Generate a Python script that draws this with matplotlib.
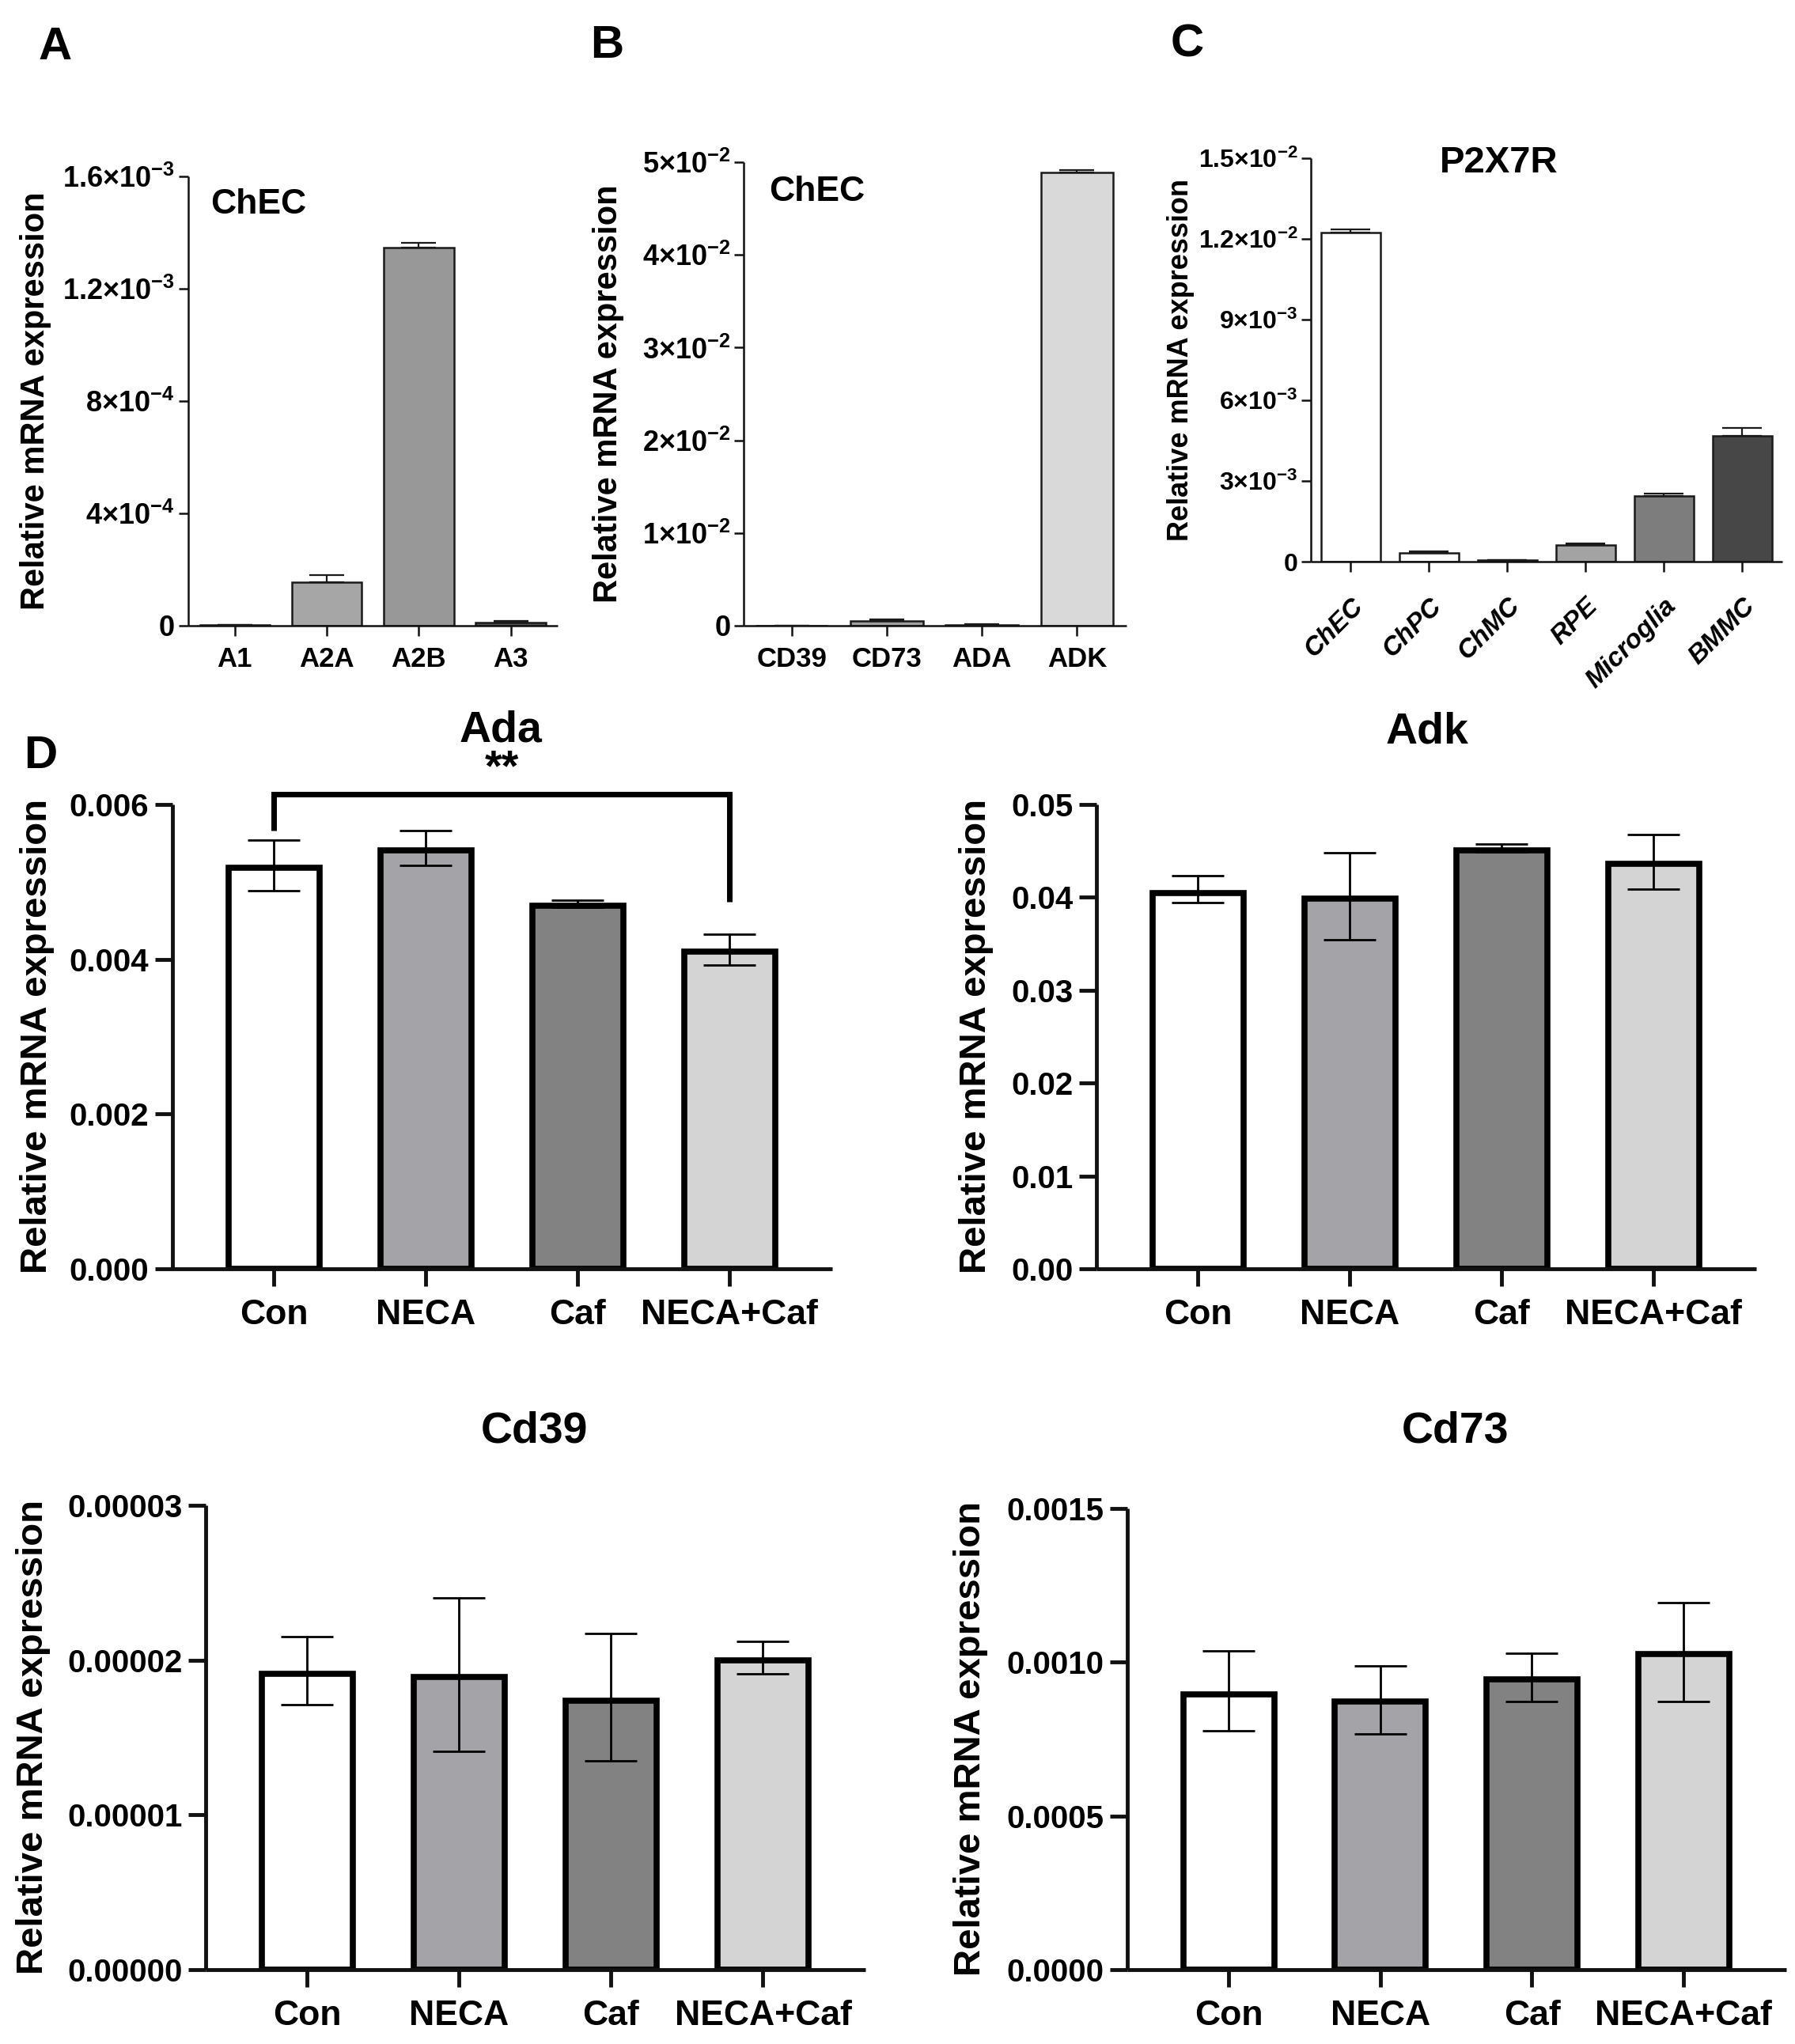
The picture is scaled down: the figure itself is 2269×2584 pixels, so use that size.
import matplotlib
matplotlib.use('Agg')
import matplotlib.pyplot as plt
from matplotlib.ticker import FixedLocator, FuncFormatter, FormatStrFormatter
import numpy as np
import math

# ---------------- data ----------------
a_cats = ['A1', 'A2A', 'A2B', 'A3']
a_vals = [2e-6, 1.55e-4, 1.346e-3, 1.1e-5]
a_err = [1e-6, 2.5e-5, 1.6e-5, 5e-6]
a_yticks = [0, 4e-4, 8e-4, 1.2e-3, 1.6e-3]

b_cats = ['CD39', 'CD73', 'ADA', 'ADK']
b_vals = [3e-5, 5.3e-4, 1.2e-4, 0.0489]
b_err = [1e-5, 1.4e-4, 3e-5, 2.4e-4]
b_yticks = [0, 1e-2, 2e-2, 3e-2, 4e-2, 5e-2]

c_cats = ['ChEC', 'ChPC', 'ChMC', 'RPE', 'Microglia', 'BMMC']
c_vals = [0.01224, 3.1e-4, 5e-5, 6.3e-4, 2.43e-3, 4.69e-3]
c_err = [1.2e-4, 7e-5, 1e-5, 5e-5, 9e-5, 2.8e-4]
c_yticks = [0, 3e-3, 6e-3, 9e-3, 1.2e-2, 1.5e-2]

d_groups = ['Con', 'NECA', 'Caf', 'NECA+Caf']

ada_mean = [0.00518, 0.00541, 0.00469, 0.00410]
ada_lo = [0.00489, 0.00521, 0.00467, 0.00393]
ada_hi = [0.00554, 0.00566, 0.00476, 0.00432]
ada_yticks = [0, 0.002, 0.004, 0.006]
ada_bracket_y = [0.00566, 0.006133, 0.006133, 0.004744]
ada_sig = '**'
ada_sig_y = 0.00646

adk_mean = [0.0405, 0.0399, 0.0451, 0.0436]
adk_lo = [0.0394, 0.0354, 0.0449, 0.0409]
adk_hi = [0.0423, 0.0448, 0.0457, 0.0468]
adk_yticks = [0, 0.01, 0.02, 0.03, 0.04, 0.05]

cd39_mean = [1.91e-5, 1.89e-5, 1.74e-5, 2.00e-5]
cd39_lo = [1.71e-5, 1.41e-5, 1.35e-5, 1.91e-5]
cd39_hi = [2.15e-5, 2.40e-5, 2.17e-5, 2.12e-5]
cd39_yticks = [0, 1e-5, 2e-5, 3e-5]

cd73_mean = [8.96e-4, 8.72e-4, 9.43e-4, 1.027e-3]
cd73_lo = [7.77e-4, 7.68e-4, 8.72e-4, 8.72e-4]
cd73_hi = [1.0365e-3, 9.89e-4, 1.03e-3, 1.193e-3]
cd73_yticks = [0, 5e-4, 1e-3, 1.5e-3]

YLABEL = 'Relative mRNA expression'

# ---------------- style ----------------
W, H = 2269, 2584
plt.rcParams['font.family'] = ['Liberation Sans', 'DejaVu Sans']
plt.rcParams['font.weight'] = 'bold'
plt.rcParams['mathtext.fontset'] = 'custom'
plt.rcParams['mathtext.rm'] = 'Liberation Sans:bold'
plt.rcParams['mathtext.bf'] = 'Liberation Sans:bold'
plt.rcParams['mathtext.it'] = 'Liberation Sans:bold:italic'
plt.rcParams['mathtext.default'] = 'regular'

fig = plt.figure(figsize=(W / 100, H / 100), dpi=100)
fig.patch.set_facecolor('white')


def add_axes(left, right, top, bottom):
    ax = fig.add_axes([left / W, 1 - bottom / H, (right - left) / W, (bottom - top) / H])
    ax._px = (left, right, top, bottom)
    return ax


def ftext(x, y, s, **kw):
    return fig.text(x / W, 1 - y / H, s, ha='center', va='center', **kw)


def sci(v, pos=None):
    if v == 0:
        return '0'
    e = int(math.floor(math.log10(abs(v)) + 1e-9))
    m = round(v / 10 ** e, 2)
    return f'{m:g}×10$^{{{e}}}$'


def style_axes(ax, lw, tlen, twid, xlim, ylim):
    for s in ['top', 'right']:
        ax.spines[s].set_visible(False)
    for s in ['left', 'bottom']:
        ax.spines[s].set_linewidth(lw)
        ax.spines[s].set_color('#111111')
        ax.spines[s].set_capstyle('butt')
    ax.set_xlim(*xlim)
    ax.set_ylim(*ylim)
    ax.tick_params(direction='out', length=tlen, width=twid, color='#111111')


def place_ylabel(ax, xpx, fs):
    left, right, top, bottom = ax._px
    ax.set_ylabel(YLABEL, fontsize=fs, fontweight='bold')
    ax.yaxis.set_label_coords((xpx - left) / (right - left), 0.5)
    ax.yaxis.label.set_verticalalignment('center')


def simple_panel(ax, cats, vals, errs, colors, yticks, xlim, fs_y, fs_x, capsize):
    x = np.arange(len(cats))
    ax.bar(x, vals, width=0.76, color=colors, edgecolor='#1a1a1a', linewidth=1.8, zorder=2)
    ax.errorbar(x, vals, yerr=[np.zeros(len(vals)), errs], fmt='none', ecolor='#1a1a1a',
                elinewidth=1.6, capsize=capsize, capthick=1.6, zorder=3)
    style_axes(ax, 1.8, 9, 1.8, xlim, (0, yticks[-1]))
    ax.yaxis.set_major_locator(FixedLocator(yticks))
    ax.yaxis.set_major_formatter(FuncFormatter(sci))
    ax.set_xticks(x)
    ax.set_xticklabels(cats, fontsize=fs_x, fontweight='bold')
    ax.tick_params(axis='y', pad=3, labelsize=fs_y)
    ax.tick_params(axis='x', pad=10)


# ---------------- Panel A ----------------
axA = add_axes(237.5, 705, 223, 791)
simple_panel(axA, a_cats, a_vals, a_err, ['white', '#a6a6a6', '#989898', '#555555'],
             a_yticks, (-0.51, 3.51), 26, 25, 16)
place_ylabel(axA, 45, 30)
ftext(327, 259, 'ChEC', fontsize=32, fontweight='bold')
ftext(70, 60, 'A', fontsize=42, fontweight='bold')

# ---------------- Panel B ----------------
axB = add_axes(940.5, 1424, 205, 791)
simple_panel(axB, b_cats, b_vals, b_err, ['white', '#a0a0a0', '#808080', '#d9d9d9'],
             b_yticks, (-0.5, 3.52), 26, 25, 16)
place_ylabel(axB, 769, 30)
ftext(1033, 243, 'ChEC', fontsize=32, fontweight='bold')
ftext(767, 58, 'B', fontsize=42, fontweight='bold')

# ---------------- Panel C ----------------
axC = add_axes(1657, 2252.6, 200, 710)
simple_panel(axC, c_cats, c_vals, c_err,
             ['white', 'white', 'white', '#a3a3a3', '#7d7d7d', '#474747'],
             c_yticks, (-0.507, 5.507), 23, 24, 18)
axC.set_xticklabels(c_cats, fontsize=24, fontweight='bold', fontstyle='italic',
                    rotation=45, ha='right', va='top', rotation_mode='anchor')
axC.tick_params(axis='x', pad=20)
place_ylabel(axC, 1493, 26)
ftext(1895, 206, 'P2X7R', fontsize=34, fontweight='bold')
ftext(1501, 56, 'C', fontsize=42, fontweight='bold')

# ---------------- Panel D ----------------
d_colors = ['white', '#a3a3a8', '#828282', '#d4d4d4']


def d_panel(ax, means, lo, hi, yticks, decimals, title, title_xy, ylab_x):
    x = np.arange(len(d_groups))
    means = np.array(means)
    ax.bar(x, means, width=0.6, color=d_colors, edgecolor='black', linewidth=5.5,
           zorder=2, joinstyle='miter')
    ax.errorbar(x, means, yerr=[means - np.array(lo), np.array(hi) - means], fmt='none',
                ecolor='black', elinewidth=2, capsize=24, capthick=2, zorder=3)
    style_axes(ax, 3.5, 16, 3.5, (-0.67, 3.675), (0, yticks[-1]))
    ax.yaxis.set_major_locator(FixedLocator(yticks))
    ax.yaxis.set_major_formatter(FormatStrFormatter('%.' + str(decimals) + 'f'))
    ax.set_xticks(x)
    ax.set_xticklabels(d_groups, fontsize=32, fontweight='bold')
    ax.tick_params(axis='y', labelsize=29, pad=5)
    ax.tick_params(axis='x', pad=11)
    place_ylabel(ax, ylab_x, 34)
    ftext(title_xy[0], title_xy[1], title, fontsize=40, fontweight='bold')


axAda = add_axes(217.5, 1052, 1017, 1604)
d_panel(axAda, ada_mean, ada_lo, ada_hi, ada_yticks, 3, 'Ada', (633, 923), 47)
axAda.plot([0, 0, 3, 3], ada_bracket_y, color='black', lw=5, clip_on=False,
           solid_joinstyle='miter', solid_capstyle='butt', zorder=4)
axAda.text(1.5, ada_sig_y, ada_sig, ha='center', va='center', fontsize=40,
           fontweight='bold', clip_on=False)
ftext(51, 956, 'D', fontsize=42, fontweight='bold')

axAdk = add_axes(1385.5, 2220, 1017, 1604)
d_panel(axAdk, adk_mean, adk_lo, adk_hi, adk_yticks, 2, 'Adk', (1804, 925), 1234)

axCd39 = add_axes(259.6, 1094, 1903, 2490)
d_panel(axCd39, cd39_mean, cd39_lo, cd39_hi, cd39_yticks, 5, 'Cd39', (675, 1809), 42)

axCd73 = add_axes(1424.7, 2257.5, 1907, 2490)
d_panel(axCd73, cd73_mean, cd73_lo, cd73_hi, cd73_yticks, 4, 'Cd73', (1840, 1809), 1227)

fig.savefig('out.png', dpi=100, facecolor='white')
